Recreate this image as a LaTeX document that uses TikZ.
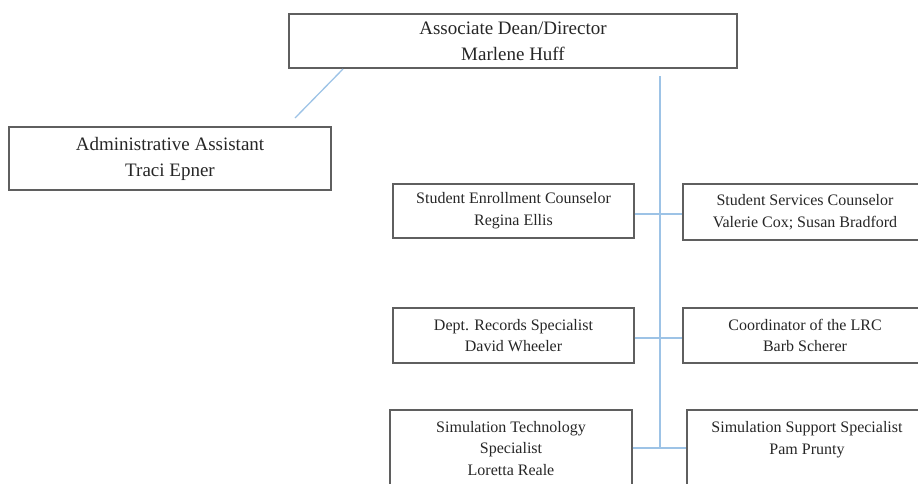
\documentclass[tikz,border=0pt]{standalone}
\usepackage{fontspec}
\setmainfont{Liberation Serif}
\definecolor{linkblue}{RGB}{157,195,230}
\definecolor{boxline}{RGB}{95,95,95}
\begin{document}
\begin{tikzpicture}[x=1pt,y=-1pt,
  orgbox/.style={draw=boxline, line width=1.3pt, rectangle, align=center, inner sep=0pt, text=black!85},
  bigtext/.style={font=\fontsize{19}{26}\selectfont},
  smalltext/.style={font=\fontsize{16}{21.7}\selectfont},
  link/.style={draw=linkblue, line width=1.3pt}]
\useasboundingbox (0,0) rectangle (918,483);

\node[orgbox, bigtext, minimum width=448pt, minimum height=54pt] (dean) at (513,41)
  {Associate Dean/Director\\Marlene Huff};
\node[orgbox, bigtext, minimum width=322pt, minimum height=63pt] (admin) at (170,158.5)
  {Administrative Assistant\\Traci Epner};

\node[orgbox, smalltext, minimum width=241pt, minimum height=54pt] (l1) at (513.5,211)
  {Student Enrollment Counselor\\Regina Ellis};
\node[orgbox, smalltext, minimum width=244pt, minimum height=56pt] (r1) at (805,212)
  {Student Services Counselor\\Valerie Cox; Susan Bradford};

\node[orgbox, smalltext, minimum width=241pt, minimum height=55pt] (l2) at (513.5,335.5)
  {Dept. Records Specialist\\David Wheeler};
\node[orgbox, smalltext, minimum width=244pt, minimum height=55pt] (r2) at (805,335.5)
  {Coordinator of the LRC\\Barb Scherer};

\node[orgbox, smalltext, minimum width=242pt, minimum height=77pt] (l3) at (511,448.5)
  {Simulation Technology\\Specialist\\Loretta Reale};
\node[orgbox, smalltext, minimum width=240pt, minimum height=77pt] (r3) at (807,448.5)
  {Simulation Support Specialist\\Pam Prunty\\\mbox{}};

\coordinate (da) at (343,69);
\coordinate (db) at (295,118);
\coordinate (vtop) at (660,76);
\coordinate (vbot) at (660,448);

\draw[link] (da) -- (db);
\draw[link] (vtop) -- (vbot);
\draw[link] (l1.east |- 0,214) -- (r1.west |- 0,214);
\draw[link] (l2.east |- 0,338) -- (r2.west |- 0,338);
\draw[link] (l3.east |- 0,448) -- (r3.west |- 0,448);
\end{tikzpicture}
\end{document}
